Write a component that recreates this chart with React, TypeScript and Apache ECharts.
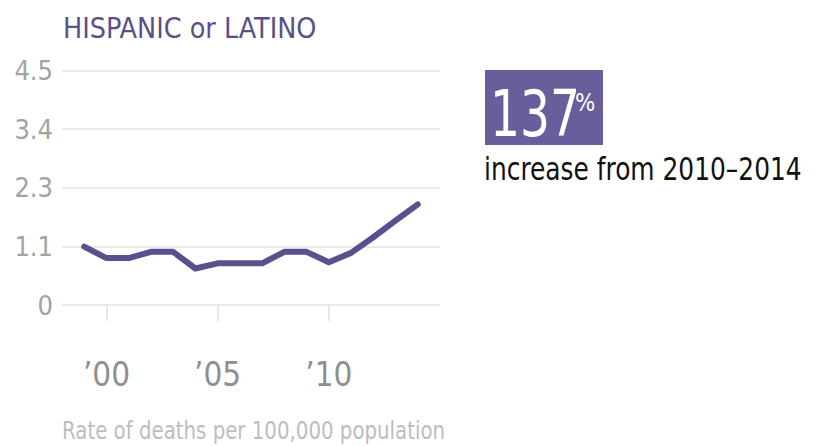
import React, { useEffect, useRef } from "react";
import * as echarts from "echarts";

const years = [1999, 2000, 2001, 2002, 2003, 2004, 2005, 2006, 2007, 2008, 2009, 2010, 2011, 2012, 2013, 2014];
const rates = [1.12, 0.9, 0.9, 1.02, 1.02, 0.7, 0.8, 0.8, 0.8, 1.02, 1.02, 0.82, 1.0, 1.3, 1.62, 1.93];
const yTickLabels = ["0", "1.1", "2.3", "3.4", "4.5"];
const xTickYears = [2000, 2005, 2010];
const titleText = "HISPANIC or LATINO";
const bigNumber = "137";
const bigUnit = "%";
const calloutText = "increase from 2010–2014";
const footerText = "Rate of deaths per 100,000 population";

const FONT = '"Liberation Sans Narrow", "DejaVu Sans Condensed", "Roboto Condensed", sans-serif';
const PURPLE = "#5b4f8e";

export default function App() {
  const ref = useRef<HTMLDivElement>(null);
  useEffect(() => {
    if (!ref.current) return;
    const chart = echarts.init(ref.current, undefined, { renderer: "svg" });
    const step = 4.5 / (yTickLabels.length - 1);
    chart.setOption({
      animation: false,
      backgroundColor: "#ffffff",
      grid: { left: 62, right: 379, top: 70.5, bottom: 141, containLabel: false },
      xAxis: {
        type: "value",
        min: 1998,
        max: 2015,
        offset: 22,
        axisLine: { show: false },
        splitLine: { show: false },
        axisTick: { show: true, length: 16, customValues: xTickYears, lineStyle: { color: "#e0e0e0", width: 1.5 } },
        axisLabel: {
          customValues: xTickYears,
          formatter: (v: number) => "’" + String(v).slice(2),
          margin: 31,
          color: "#8f8f8f",
          fontFamily: FONT,
          fontSize: 33,
        },
      },
      yAxis: {
        type: "value",
        min: 0,
        max: 4.5,
        interval: step,
        axisLine: { show: false },
        axisTick: { show: false },
        splitLine: { lineStyle: { color: "#e2e2e2", width: 1.5 } },
        axisLabel: {
          formatter: (v: number) => yTickLabels[Math.round(v / step)] ?? "",
          margin: 9,
          color: "#a3a3a3",
          fontFamily: FONT,
          fontSize: 27,
        },
      },
      series: [
        {
          type: "line",
          data: years.map((y, i) => [y, rates[i]]),
          showSymbol: false,
          lineStyle: { color: PURPLE, width: 6, join: "round", cap: "round" },
          itemStyle: { color: PURPLE },
        },
      ],
      graphic: [
        {
          type: "text",
          x: 63,
          y: 13,
          scaleX: 0.98,
          style: { text: titleText, fill: "#5a5088", font: `29px ${FONT}` },
        },
        {
          type: "rect",
          shape: { x: 485, y: 70, width: 118, height: 75 },
          style: { fill: "#6a5d9b" },
        },
        {
          type: "text",
          x: 490,
          y: 146,
          scaleX: 0.82,
          style: { text: bigNumber, fill: "#ffffff", font: `64px ${FONT}`, verticalAlign: "bottom" },
        },
        {
          type: "text",
          x: 575,
          y: 90,
          scaleX: 0.95,
          style: { text: bigUnit, fill: "#ffffff", font: `25px ${FONT}` },
        },
        {
          type: "text",
          x: 484,
          y: 153,
          scaleX: 0.865,
          style: { text: calloutText, fill: "#111111", font: `32px ${FONT}` },
        },
        {
          type: "text",
          x: 62,
          y: 418,
          scaleX: 0.88,
          style: { text: footerText, fill: "#bdbdbd", font: `25px ${FONT}` },
        },
      ],
    });
    return () => chart.dispose();
  }, []);
  return <div ref={ref} style={{ position: "fixed", left: 0, top: 0, width: 819, height: 446 }} />;
}
